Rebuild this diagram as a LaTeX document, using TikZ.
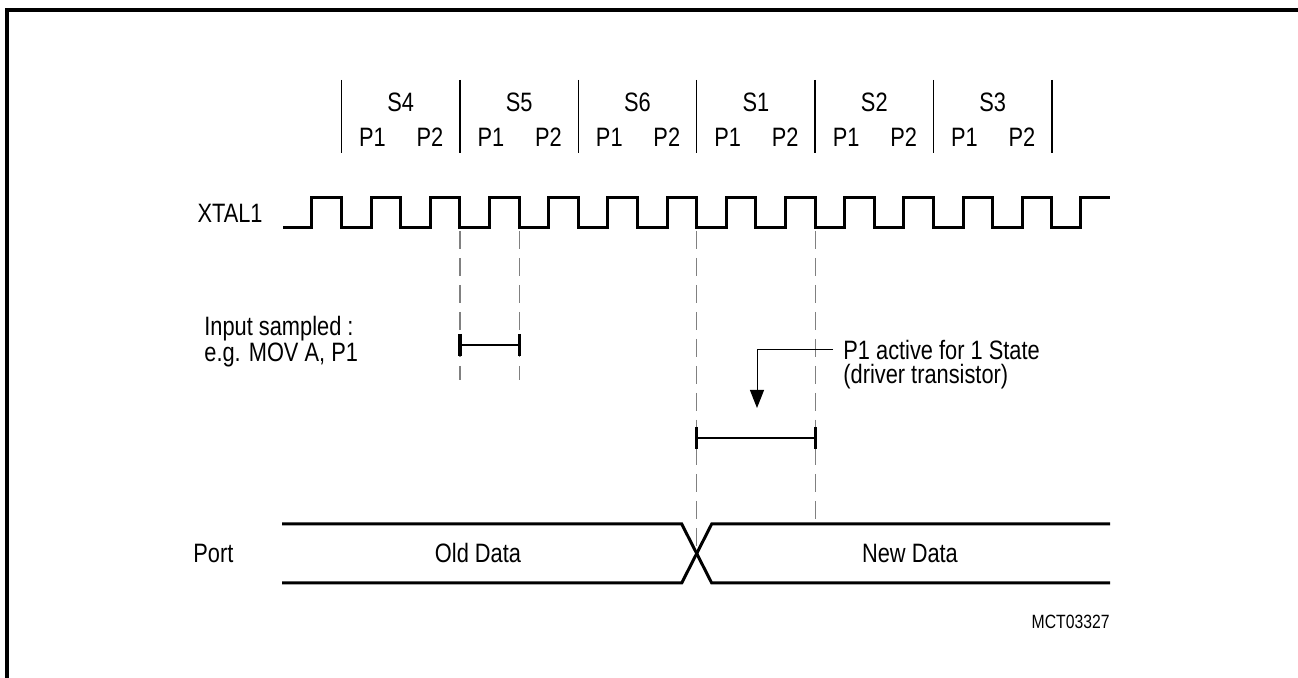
\documentclass[tikz,border=0pt]{standalone}
\usepackage{fontspec}
\setmainfont{Liberation Sans}[FakeStretch=0.82]
\usetikzlibrary{calc,positioning,arrows.meta}
\newcommand{\spanbar}[3][11]
	{
	\draw[line width=1pt] (#2) -- (#3);
	\draw[line width=1.6pt] ($(#2)+(0,-#1)$) -- ($(#2)+(0,#1)$);
	\draw[line width=1.6pt] ($(#3)+(0,-#1)$) -- ($(#3)+(0,#1)$);
	}

\begin{document}
\begin{tikzpicture}[x=0.5pt,y=-0.5pt,
	font=\fontsize{13.3}{13}\selectfont,
	every node/.style={inner sep=0pt},
	clk/.style={line width=1.5pt},
	sig/.style={line width=1.5pt},
	guide/.style={gray,line width=0.6pt,dash pattern=on 9pt off 4.5pt}]

% frame
\useasboundingbox (0,0) rectangle (1298,678);
\draw[line width=1.8pt] (7,678) -- (7,10) -- (1298,10);

% states and phases
\foreach \s [count=\i from 0] in {S4,S5,S6,S1,S2,S3}
	{
	\node (st\i) at ({400.7+118.4*\i},102) {\s};
	\node (pa\i) at ({372.5+118.4*\i},137) {P1};
	\node (pb\i) at ({430+118.4*\i},137) {P2};
	}
\foreach \i in {0,...,6}
	\draw[line width=0.7pt] ({341.5+118.4*\i},80) -- ({341.5+118.4*\i},153);

% clock
\node[anchor=east] (xtal) at (263,213) {XTAL1};
\draw[clk] (283,228) foreach \k in {0,...,12}
	{ -- ({311.9+59.2*\k},228) -- ({311.9+59.2*\k},198) -- ({341.5+59.2*\k},198) -- ({341.5+59.2*\k},228) }
	-- (1080.7,228) -- (1080.7,198) -- (1110,198);

% guide points
\coordinate (g1) at (459.9,231);
\coordinate (g1e) at (459.9,380);
\coordinate (g2) at (519.1,231);
\coordinate (g2e) at (519.1,380);
\coordinate (g3) at (696.7,231);
\coordinate (x) at (696.7,553.5);
\coordinate (g4) at (815.1,231);
\coordinate (g4e) at (815.1,524);

\draw[guide] (g1) -- (g1e);
\draw[guide] (g2) -- (g2e);
\draw[guide] (g3) -- (x);
\draw[guide] (g4) -- (g4e);

% input sampled
\node[anchor=west,align=left] (insmp) at (204,342) {Input sampled :\\e.g. MOV A, P1};
\coordinate (sa) at (459.9,345);
\coordinate (sb) at (519.1,345);
\spanbar{sa}{sb}

% P1 active
\node[anchor=west,inner xsep=5pt] (act1) at (833,350) {P1 active for 1 State};
\node[anchor=west] (act2) at (843,377) {(driver transistor)};
\coordinate (tip) at (757,408);
\draw[line width=0.5pt,-{Triangle[width=7pt,length=9pt]}] (act1.west) -| (tip);
\coordinate (aa) at (696.7,438);
\coordinate (ab) at (815.1,438);
\spanbar{aa}{ab}

% port
\node[anchor=west] (port) at (193,553) {Port};
\draw[sig] (282,524) -- (681.7,524) -- (711.7,583) -- (1110,583);
\draw[sig] (282,583) -- (681.7,583) -- (711.7,524) -- (1110,524);
\node (old) at (478,553) {Old Data};
\node (new) at (910,553) {New Data};

\node[anchor=east,font=\fontsize{9.6}{11}\selectfont] (mct) at (1110,622) {MCT03327};

\end{tikzpicture}
\end{document}
